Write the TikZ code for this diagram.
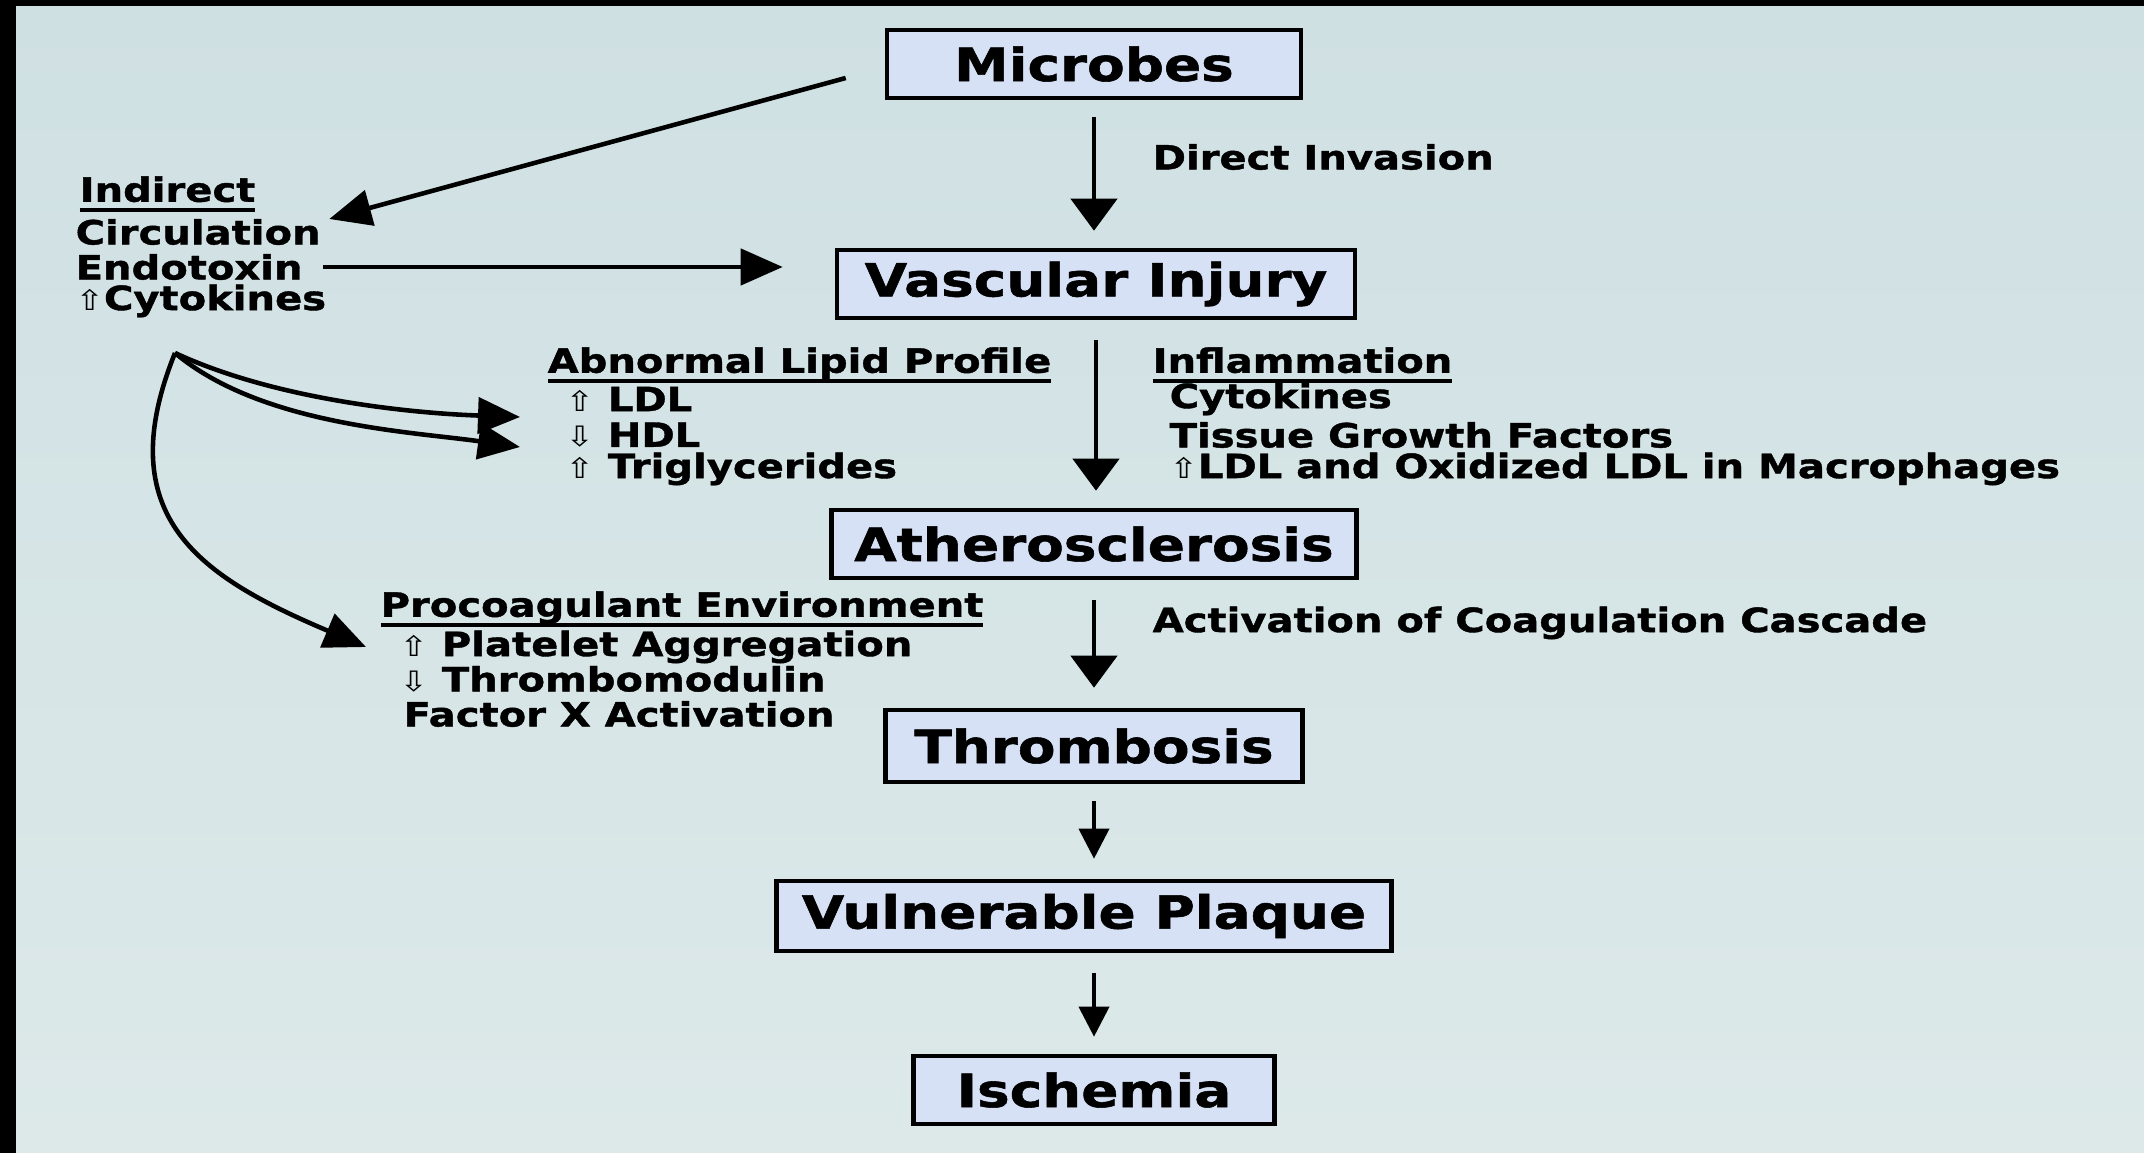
\documentclass[tikz,border=0pt]{standalone}
\usepackage{fontspec}
\setmainfont{DejaVu Sans}[FakeStretch=1.2, BoldFeatures={FakeBold=1.2}]
\usetikzlibrary{arrows.meta}

\definecolor{fondo}{RGB}{207,224,227}
\definecolor{fondob}{RGB}{221,233,233}
\definecolor{cajafill}{RGB}{214,225,245}

\newcommand{\flechaup}{{\mdseries\fontsize{8}{8}\selectfont ⇧}}
\newcommand{\flechadn}{{\mdseries\fontsize{8}{8}\selectfont ⇩}}
\newcommand{\subrayado}[1]{\leavevmode\setbox0=\hbox{#1}\rlap{\vrule height -1.7pt depth 2.8pt width \wd0}\box0}

\begin{document}
\begin{tikzpicture}
  \tikzset{
    box_node/.style={draw, fill=cajafill, line width=1.3pt, inner sep=0pt, minimum height=0.68cm, font=\bfseries\fontsize{13}{15}\selectfont},
    text_node/.style={anchor=west, inner sep=0pt, font=\bfseries\fontsize{9.5}{11}\selectfont},
    big_arrow/.style={line width=1.3pt, -{Triangle[width=0.46cm, length=0.32cm]}},
    small_arrow/.style={line width=1.1pt, -{Triangle[width=0.3cm, length=0.3cm]}},
    curve_arrow/.style={line width=1.3pt, -{Triangle[width=0.36cm, length=0.42cm]}}
  }

  % Fondo y marco
  \useasboundingbox (0,0) rectangle (21.44,-11.53);
  \fill[black] (0,0) rectangle (21.44,-11.53);
  \shade[top color=fondo, bottom color=fondob] (0.16,-0.07) rectangle (21.44,-11.53);

  % Cajas de la cadena principal
  \node[box_node, minimum width=4.14cm] (mic) at (10.94,-0.64) {Microbes};
  \node[box_node, minimum width=5.18cm] (vas) at (10.96,-2.84) {Vascular Injury};
  \node[box_node, minimum width=5.25cm] (ath) at (10.94,-5.44) {Atherosclerosis};
  \node[box_node, minimum width=4.17cm, minimum height=0.72cm] (thr) at (10.94,-7.46) {Thrombosis};
  \node[box_node, minimum width=6.15cm, minimum height=0.70cm] (vul) at (10.84,-9.16) {Vulnerable Plaque};
  \node[box_node, minimum width=3.61cm] (isc) at (10.94,-10.90) {Ischemia};

  % Textos de la izquierda
  \node[text_node] (ind) at (0.79,-1.94) {\subrayado{Indirect}};
  \node[text_node] (circ) at (0.75,-2.32) {Circulation};
  \node[text_node] (endo) at (0.75,-2.67) {Endotoxin};
  \node[text_node] (cyto) at (0.75,-3.01) {\flechaup Cytokines};

  \node[text_node] (lip) at (5.47,-3.65) {\subrayado{Abnormal Lipid Profile}};
  \node[text_node] (ldl) at (5.65,-3.99) {\flechaup\ LDL};
  \node[text_node] (hdl) at (5.65,-4.35) {\flechadn\ HDL};
  \node[text_node] (tri) at (5.65,-4.69) {\flechaup\ Triglycerides};

  \node[text_node] (proc) at (3.80,-6.09) {\subrayado{Procoagulant Environment}};
  \node[text_node] (plt) at (3.99,-6.47) {\flechaup\ Platelet Aggregation};
  \node[text_node] (tmd) at (3.99,-6.79) {\flechadn\ Thrombomodulin};
  \node[text_node] (fxa) at (4.03,-7.14) {Factor X Activation};

  % Textos de la derecha
  \node[text_node] (dinv) at (11.52,-1.57) {Direct Invasion};
  \node[text_node] (infl) at (11.52,-3.65) {\subrayado{Inflammation}};
  \node[text_node] (cyt2) at (11.69,-3.99) {Cytokines};
  \node[text_node] (tgf) at (11.69,-4.35) {Tissue Growth Factors};
  \node[text_node] (oxl) at (11.69,-4.69) {\flechaup LDL and Oxidized LDL in Macrophages};
  \node[text_node] (acc) at (11.52,-6.23) {Activation of Coagulation Cascade};

  % Flechas verticales
  \draw[big_arrow, shorten <=0.17cm, shorten >=0.17cm] (mic.south) -- (mic.south |- vas.north);
  \draw[big_arrow, shorten <=0.2cm, shorten >=0.17cm] (vas.south) -- (vas.south |- ath.north);
  \draw[big_arrow, shorten <=0.2cm, shorten >=0.2cm] (ath.south) -- (ath.south |- thr.north);
  \draw[small_arrow, shorten <=0.17cm, shorten >=0.2cm] (thr.south) -- (thr.south |- vul.north);
  \draw[small_arrow, shorten <=0.2cm, shorten >=0.17cm] (vul.south -| isc.north) -- (isc.north);

  % Flechas de la via indirecta
  \draw[curve_arrow] ([xshift=-0.39cm,yshift=-0.14cm]mic.west) -- ([xshift=0.08cm,yshift=0.13cm]circ.east);
  \draw[curve_arrow] ([xshift=0.2cm]endo.east) -- ([xshift=-0.52cm]endo.east -| vas.west);

  \coordinate (src) at (1.75,-3.53);
  \draw[curve_arrow] (src) to[out=-25, in=178, looseness=0.8] ([xshift=-0.45cm,yshift=-0.18cm]ldl.west);
  \draw[curve_arrow] (src) to[out=-40, in=172, looseness=0.8] ([xshift=-0.45cm,yshift=-0.12cm]hdl.west);
  \draw[curve_arrow] (src) to[out=-112, in=157, looseness=1.3] ([xshift=-0.33cm]plt.west);
\end{tikzpicture}
\end{document}
